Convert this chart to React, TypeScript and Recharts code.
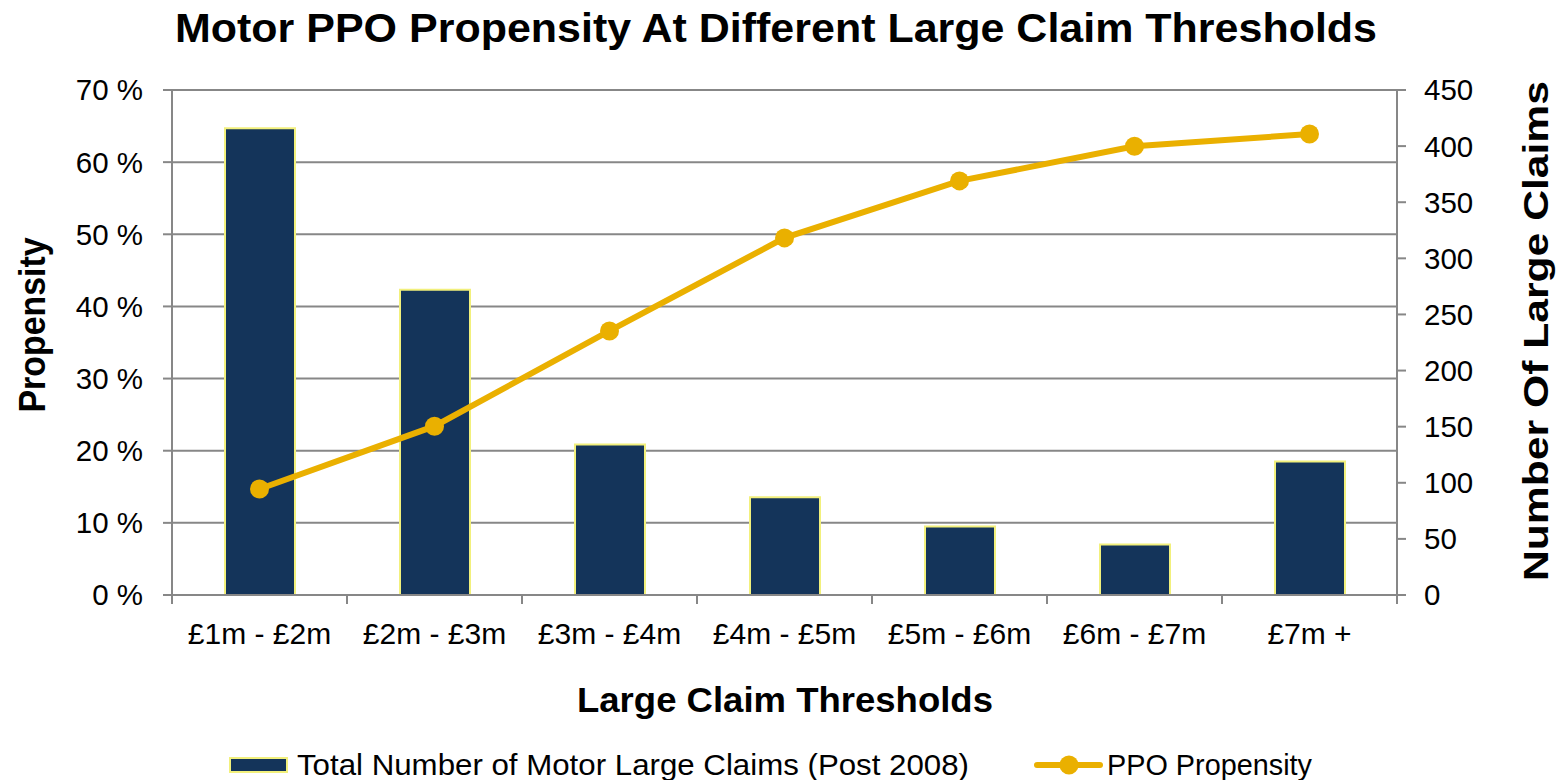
import React from 'react';
import { ComposedChart, Bar, Line, XAxis, YAxis, CartesianGrid } from 'recharts';

const categories = ['£1m - £2m', '£2m - £3m', '£3m - £4m', '£4m - £5m', '£5m - £6m', '£6m - £7m', '£7m +'];
const claimCounts = [416, 272, 134, 87, 61, 45, 119];
const propensity = [14.7, 23.4, 36.6, 49.5, 57.4, 62.2, 63.9];
const leftTicks = [0, 10, 20, 30, 40, 50, 60, 70];
const rightTicks = [0, 50, 100, 150, 200, 250, 300, 350, 400, 450];

const data = categories.map((c, i) => ({ category: c, claims: claimCounts[i], propensity: propensity[i] }));

const FONT = '"Liberation Sans", Arial, sans-serif';
const AXIS = '#878787';
const GOLD = '#EAB000';
const NAVY = '#14345A';
const BAR_EDGE = '#F2F07C';
const TICK_SIZE = 9;
const X_TICK_MARGIN = 19;

const XTick = (props: any) => {
  const { x, y, payload, index, visibleTicksCount } = props;
  const half = payload && typeof payload.offset === 'number' && payload.offset > 0 ? payload.offset : 87.5;
  const top = y - X_TICK_MARGIN - TICK_SIZE;
  const bottom = y - X_TICK_MARGIN;
  const isLast = index === (visibleTicksCount ?? categories.length) - 1;
  return (
    <g>
      <line x1={x - half} x2={x - half} y1={top} y2={bottom} stroke={AXIS} strokeWidth={2} />
      {isLast && <line x1={x + half} x2={x + half} y1={top} y2={bottom} stroke={AXIS} strokeWidth={2} />}
      <text x={x} y={y} dy="0.71em" textAnchor="middle" fill="#000" fontSize={30} fontFamily={FONT}>
        {payload.value}
      </text>
    </g>
  );
};

export default function App() {
  return (
    <div style={{ position: 'absolute', left: 0, top: 0, width: 1562, height: 780, background: '#fff' }}>
      <ComposedChart
        width={1562}
        height={780}
        data={data}
        margin={{ top: 90, right: 0, bottom: 0, left: 0 }}
        style={{ fontFamily: FONT }}
      >
        <CartesianGrid yAxisId="left" vertical={false} stroke={AXIS} strokeWidth={2} />
        <XAxis
          dataKey="category"
          height={185}
          axisLine={{ stroke: AXIS, strokeWidth: 2 }}
          tickLine={{ stroke: 'transparent' }}
          tickSize={TICK_SIZE}
          tickMargin={X_TICK_MARGIN}
          tick={<XTick />}
          interval={0}
        />
        <YAxis
          yAxisId="left"
          orientation="left"
          width={172}
          domain={[0, 70]}
          ticks={leftTicks}
          tickFormatter={(v: number) => `${v} %`}
          axisLine={{ stroke: AXIS, strokeWidth: 2 }}
          tickLine={{ stroke: AXIS, strokeWidth: 2 }}
          tickSize={TICK_SIZE}
          tickMargin={20}
          tick={{ fill: '#000', fontSize: 29.5, fontFamily: FONT }}
          interval={0}
        />
        <YAxis
          yAxisId="right"
          orientation="right"
          width={165}
          domain={[0, 450]}
          ticks={rightTicks}
          axisLine={{ stroke: AXIS, strokeWidth: 2 }}
          tickLine={{ stroke: AXIS, strokeWidth: 2 }}
          tickSize={TICK_SIZE}
          tickMargin={18}
          tick={{ fill: '#000', fontSize: 29.5, fontFamily: FONT, textAnchor: 'start' }}
          interval={0}
        />
        <Bar
          yAxisId="right"
          dataKey="claims"
          barSize={70}
          fill={NAVY}
          stroke={BAR_EDGE}
          strokeWidth={2}
          isAnimationActive={false}
        />
        <Line
          yAxisId="left"
          type="linear"
          dataKey="propensity"
          stroke={GOLD}
          strokeWidth={6}
          dot={{ r: 9.5, fill: GOLD, stroke: GOLD, strokeWidth: 0 }}
          activeDot={false}
          isAnimationActive={false}
        />
      </ComposedChart>
      <svg
        width={1562}
        height={780}
        style={{ position: 'absolute', left: 0, top: 0, pointerEvents: 'none', fontFamily: FONT }}
      >
        <text x={776} y={42} textAnchor="middle" fontSize={41} fontWeight="bold" fill="#000" textLength={1202} lengthAdjust="spacingAndGlyphs">
          Motor PPO Propensity At Different Large Claim Thresholds
        </text>
        <text x={785} y={712} textAnchor="middle" fontSize={35} fontWeight="bold" fill="#000" textLength={416} lengthAdjust="spacingAndGlyphs">
          Large Claim Thresholds
        </text>
        <text x={45} y={325} textAnchor="middle" fontSize={36} fontWeight="bold" fill="#000" transform="rotate(-90, 45, 325)" textLength={175} lengthAdjust="spacingAndGlyphs">
          Propensity
        </text>
        <text x={1548} y={331} textAnchor="middle" fontSize={35} fontWeight="bold" fill="#000" transform="rotate(-90, 1548, 331)" textLength={500} lengthAdjust="spacingAndGlyphs">
          Number Of Large Claims
        </text>
        <rect x={230} y={758} width={57} height={14} fill={NAVY} stroke={BAR_EDGE} strokeWidth={2} />
        <text x={297} y={775} fontSize={29.5} fill="#000" textLength={672} lengthAdjust="spacingAndGlyphs">
          Total Number of Motor Large Claims (Post 2008)
        </text>
        <line x1={1037} x2={1100} y1={765} y2={765} stroke={GOLD} strokeWidth={6} strokeLinecap="round" />
        <circle cx={1069} cy={765} r={9.5} fill={GOLD} />
        <text x={1107} y={775} fontSize={29.5} fill="#000" textLength={205} lengthAdjust="spacingAndGlyphs">
          PPO Propensity
        </text>
      </svg>
    </div>
  );
}
